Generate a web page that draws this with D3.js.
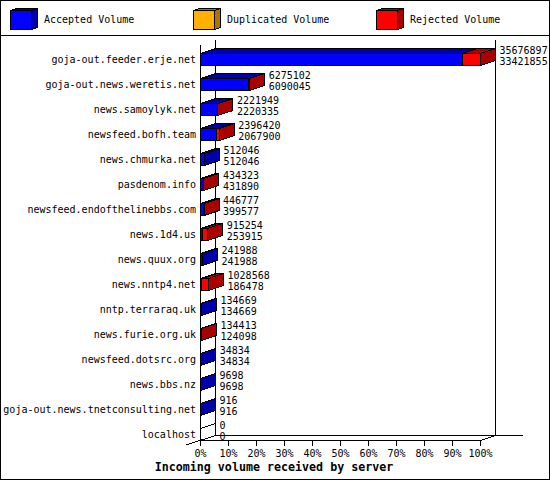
<!DOCTYPE html>
<html>
<head>
<meta charset="utf-8">
<script src="https://cdn.jsdelivr.net/npm/d3@7"></script>
<style>
  html, body { margin: 0; padding: 0; background: #fff; }
  svg { display: block; }
  text { font-family: "DejaVu Sans Mono", "Liberation Mono", monospace; font-size: 10px; fill: #000; }
</style>
</head>
<body>
<svg id="chart" width="550" height="480"></svg>
<script>
const servers = ["goja-out.feeder.erje.net", "goja-out.news.weretis.net", "news.samoylyk.net",
  "newsfeed.bofh.team", "news.chmurka.net", "pasdenom.info", "newsfeed.endofthelinebbs.com",
  "news.1d4.us", "news.quux.org", "news.nntp4.net", "nntp.terraraq.uk", "news.furie.org.uk",
  "newsfeed.dotsrc.org", "news.bbs.nz", "goja-out.news.tnetconsulting.net", "localhost"];
const offered = [35676897, 6275102, 2221949, 2396420, 512046, 434323, 446777, 915254,
  241988, 1028568, 134669, 134413, 34834, 9698, 916, 0];
const accepted = [33421855, 6090045, 2220335, 2067900, 512046, 431890, 399577, 253915,
  241988, 186478, 134669, 124098, 34834, 9698, 916, 0];
const legendNames = ["Accepted Volume", "Duplicated Volume", "Rejected Volume"];
const percentTicks = [0, 10, 20, 30, 40, 50, 60, 70, 80, 90, 100];

const BLUE = ["#0000ff", "#0000aa"];
const ORANGE = ["#ffb000", "#aa7500"];
const RED = ["#ff0000", "#aa0000"];

const svg = d3.select("#chart");
const dx = 15, dy = -5, barH = 12;

// percent of the biggest server
const x = d3.scaleLinear().domain([0, 100]).range([200.5, 480.5]);
const y = d3.scaleBand().domain(servers).range([40.5, 440.5]);
const maxVol = d3.max(offered);
const pct = v => v / maxVol * 100;

function pts(a) {
  return a.map(p => p.join(",")).join(" ");
}

function line(x1, y1, x2, y2) {
  svg.append("line").attr("x1", x1).attr("y1", y1).attr("x2", x2).attr("y2", y2)
    .attr("stroke", "#000").attr("stroke-width", 1).attr("shape-rendering", "crispEdges");
}

function box(x0, x1, top, bottom, ddx, ddy, col, drawSide) {
  const g = svg.append("g").attr("stroke", "#000").attr("stroke-width", 1)
    .attr("shape-rendering", "crispEdges").attr("stroke-linejoin", "miter");
  // top face
  g.append("polygon").attr("fill", col[1])
    .attr("points", pts([[x0, top], [x0 + ddx, top + ddy], [x1 + ddx, top + ddy], [x1, top]]));
  if (drawSide) {
    g.append("polygon").attr("fill", col[1])
      .attr("points", pts([[x1, top], [x1 + ddx, top + ddy], [x1 + ddx, bottom + ddy], [x1, bottom]]));
  }
  g.append("rect").attr("x", x0).attr("y", top).attr("width", x1 - x0).attr("height", bottom - top)
    .attr("fill", col[0]);
}

// frame and legend
svg.append("rect").attr("x", 0.5).attr("y", 0.5).attr("width", 549).attr("height", 479)
  .attr("fill", "#fff").attr("stroke", "#000").attr("shape-rendering", "crispEdges");
line(0, 35.5, 550, 35.5);

const legendX = d3.scalePoint().domain(legendNames).range([10.5, 376.5]);
[BLUE, ORANGE, RED].forEach((col, i) => {
  const lx = legendX(legendNames[i]);
  box(lx, lx + 21, 10.5, 29.5, 6, -2, col, true);
  svg.append("text").attr("x", lx + 33.5).attr("y", 23).text(legendNames[i]);
});

// back walls
line(x(0) + dx, 40, x(0) + dx, 436);
line(x(100) + dx, 40, x(100) + dx, 436);
line(x(0) + dx, 435.5, 523, 435.5);
line(x(0), 45, x(0), 441);
line(x(0), 440.5, x(100), 440.5);
line(186, 445, x(0) + dx, 435.5);
line(x(100), 440.5, x(100) + dx, 435.5);

// bars
servers.forEach((name, i) => {
  const bottom = y(name) + y.bandwidth();
  const top = bottom - barH;
  const xa = x(pct(accepted[i]));
  const xt = x(pct(offered[i]));
  if (offered[i] > 0) {
    box(x(0), xa, top, bottom, dx, dy, BLUE, offered[i] === accepted[i]);
  } else {
    // empty server: just the outline of a flat bar
    line(x(0), top, x(0) + dx, top + dy);
  }
  if (offered[i] > accepted[i]) {
    box(xa, xt, top, bottom, dx, dy, RED, true);
  }
  svg.append("text").attr("x", 196).attr("y", bottom - 3).attr("text-anchor", "end").text(name);
  svg.append("text").attr("x", xt + dx + 4).attr("y", y(name) + 13.5).text(offered[i]);
  svg.append("text").attr("x", xt + dx + 4).attr("y", y(name) + 24.5).text(accepted[i]);
});

// x axis
percentTicks.forEach(t => {
  line(x(t), 440.5, x(t), 445.5);
  svg.append("text").attr("x", x(t)).attr("y", 457).attr("text-anchor", "middle").text(t + "%");
});

svg.append("text").attr("x", 274).attr("y", 471).attr("text-anchor", "middle")
  .style("font-weight", "bold").style("font-size", "11.67px")
  .text("Incoming volume received by server");
</script>
</body>
</html>
